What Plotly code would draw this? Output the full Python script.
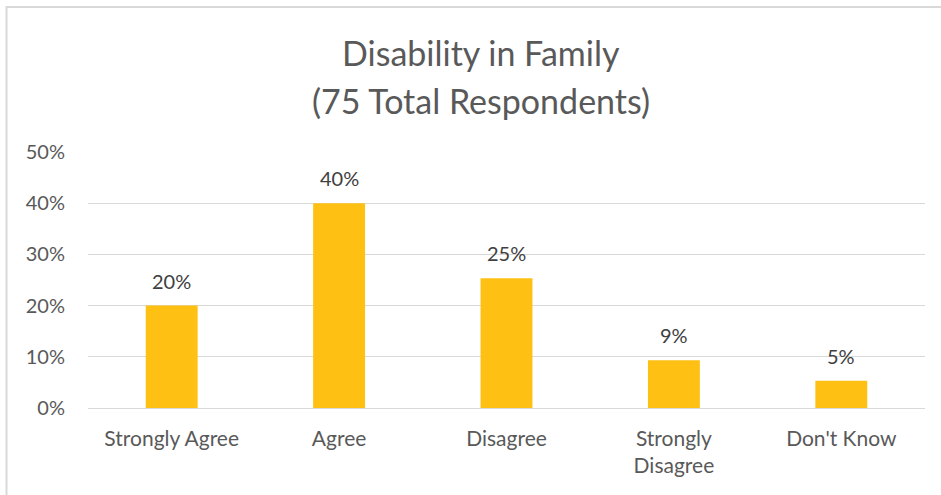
import plotly.graph_objects as go

# Survey responses (75 respondents)
categories = ["Strongly Agree", "Agree", "Disagree", "Strongly<br>Disagree", "Don't Know"]
counts = [15, 30, 19, 7, 4]
total_respondents = 75
shares = [c / total_respondents for c in counts]

title_lines = ["Disability in Family", f"({total_respondents} Total Respondents)"]

W, H = 941, 495
L, R, T, B = 88, 16, 152, 87
plot_w = W - L - R
plot_h = H - T - B

FONT = "Lato, Calibri, Carlito, sans-serif"
BAR = "#FEC012"
GRID = "#D9D9D9"

fig = go.Figure()
fig.add_trace(go.Bar(
    x=categories,
    y=shares,
    marker=dict(color=BAR, line=dict(width=0)),
    width=0.31,
    hoverinfo="skip",
))

annotations = []
for cat, v in zip(categories, shares):
    annotations.append(dict(
        x=cat, y=v, xref="x", yref="y",
        text=f"{round(v * 100):d}%",
        showarrow=False, yanchor="middle", yshift=25,
        font=dict(family=FONT, size=20, color="#404040"),
    ))

# Two-line chart title, centred on the whole chart area
title_x = (481 - L) / plot_w
for i, line in enumerate(title_lines):
    annotations.append(dict(
        x=title_x, xref="paper", yref="paper",
        y=(H - B - (52 + 48 * i)) / plot_h,
        text=line, showarrow=False, xanchor="center", yanchor="middle",
        font=dict(family=FONT, size=34, color="#595959"),
    ))

fig.update_layout(
    width=W, height=H,
    margin=dict(l=L, r=R, t=T, b=B, pad=0),
    paper_bgcolor="white", plot_bgcolor="white",
    showlegend=False,
    annotations=annotations,
    shapes=[dict(
        type="rect", xref="paper", yref="paper",
        x0=(6.5 - L) / plot_w, x1=(W + 20 - L) / plot_w,
        y0=(H - B - (H + 20)) / plot_h, y1=(H - B - 7) / plot_h,
        line=dict(color=GRID, width=2), fillcolor="rgba(0,0,0,0)", layer="below",
    )],
    xaxis=dict(
        showgrid=False, zeroline=False, showline=False, ticks="",
        tickfont=dict(family=FONT, size=21, color="#595959"),
        ticklabelstandoff=16,
        fixedrange=True,
    ),
    yaxis=dict(
        range=[0, 0.5], dtick=0.1, tickformat=".0%",
        showgrid=True, gridcolor=GRID, gridwidth=1.3,
        zeroline=True, zerolinecolor=GRID, zerolinewidth=1.3,
        showline=False, ticks="",
        tickfont=dict(family=FONT, size=20, color="#595959"),
        ticklabelstandoff=22,
        fixedrange=True,
    ),
)

fig.write_html("out.html", config={"displayModeBar": False})
